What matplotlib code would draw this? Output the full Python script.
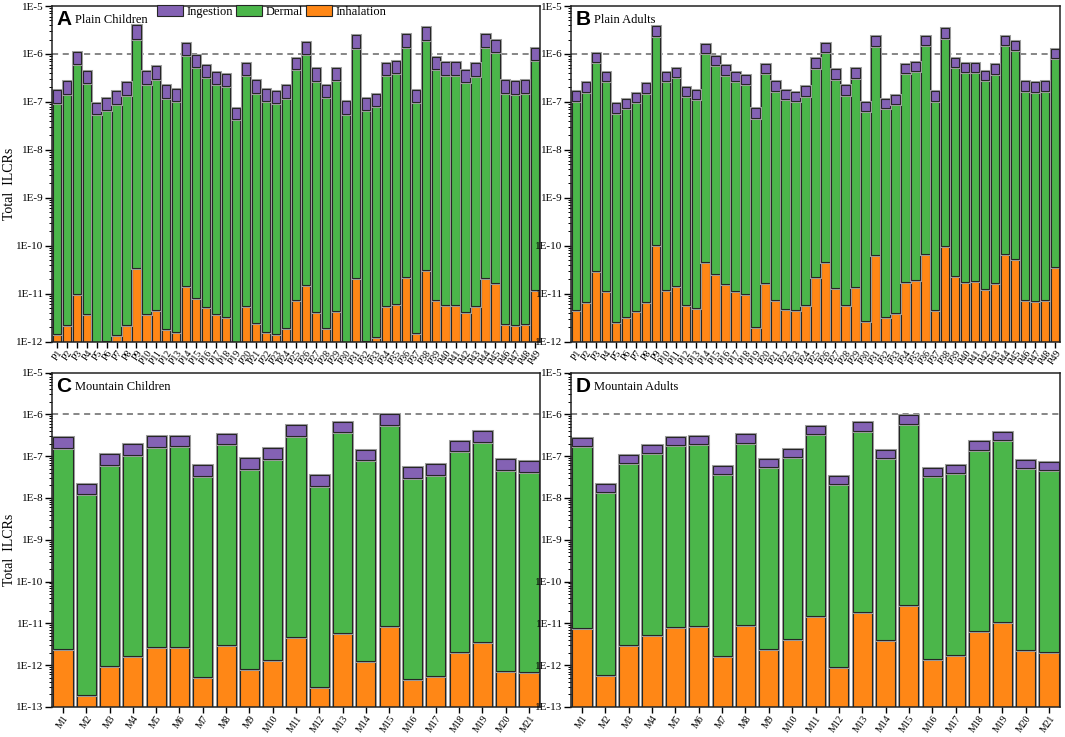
import numpy as np
import matplotlib
matplotlib.use('Agg')
import matplotlib.pyplot as plt
import matplotlib.patheffects as pe
from matplotlib.ticker import LogLocator, FixedLocator, FuncFormatter, NullFormatter
from matplotlib.patches import Patch

plt.rcParams['font.family'] = ['Liberation Serif', 'DejaVu Serif']

# site labels
plain_sites = ['P%d' % i for i in range(1, 50)]
mountain_sites = ['M%d' % i for i in range(1, 22)]

# plain children: inhalation, inhalation+dermal, total
pc_inh = [1.48e-12, 2.25e-12, 9.7e-12, 3.8e-12, 8e-13, 1.05e-12, 1.38e-12, 2.2e-12, 3.5e-11, 3.8e-12,
          4.6e-12, 1.83e-12, 1.6e-12, 1.47e-11, 8.3e-12, 5.3e-12, 3.8e-12, 3.3e-12, 9e-13, 5.6e-12,
          2.4e-12, 1.56e-12, 1.46e-12, 1.9e-12, 7.5e-12, 1.5e-11, 4.2e-12, 1.9e-12, 4.4e-12, 9e-13,
          2.1e-11, 1.02e-12, 1.27e-12, 5.6e-12, 6.2e-12, 2.2e-11, 1.52e-12, 3.1e-11, 7.5e-12, 5.8e-12,
          5.8e-12, 4.1e-12, 5.6e-12, 2.15e-11, 1.7e-11, 2.35e-12, 2.25e-12, 2.35e-12, 1.17e-11]
pc_derm = [9.7e-8, 1.45e-7, 6.2e-7, 2.5e-7, 5.5e-8, 6.7e-8, 9.1e-8, 1.4e-7, 2.1e-6, 2.4e-7,
           3.05e-7, 1.2e-7, 1.05e-7, 9.4e-7, 5.4e-7, 3.35e-7, 2.4e-7, 2.1e-7, 4.3e-8, 3.6e-7,
           1.56e-7, 1.03e-7, 9.4e-8, 1.23e-7, 4.8e-7, 9.8e-7, 2.75e-7, 1.25e-7, 2.85e-7, 5.7e-8,
           1.33e-6, 6.7e-8, 8.3e-8, 3.6e-7, 4.0e-7, 1.4e-6, 1.0e-7, 2.0e-6, 4.8e-7, 3.7e-7,
           3.7e-7, 2.6e-7, 3.5e-7, 1.4e-6, 1.1e-6, 1.55e-7, 1.46e-7, 1.54e-7, 7.5e-7]
pc_total = [1.73e-7, 2.7e-7, 1.12e-6, 4.4e-7, 9.7e-8, 1.2e-7, 1.66e-7, 2.6e-7, 4.0e-6, 4.4e-7,
            5.5e-7, 2.2e-7, 1.9e-7, 1.7e-6, 9.7e-7, 6.0e-7, 4.3e-7, 3.9e-7, 7.6e-8, 6.6e-7,
            2.8e-7, 1.83e-7, 1.7e-7, 2.2e-7, 8.4e-7, 1.75e-6, 5.0e-7, 2.2e-7, 5.2e-7, 1.05e-7,
            2.5e-6, 1.2e-7, 1.47e-7, 6.5e-7, 7.2e-7, 2.55e-6, 1.77e-7, 3.6e-6, 8.7e-7, 6.8e-7,
            6.8e-7, 4.7e-7, 6.4e-7, 2.55e-6, 2.0e-6, 2.8e-7, 2.7e-7, 2.8e-7, 1.35e-6]

# plain adults
pa_inh = [4.6e-12, 6.8e-12, 3.0e-11, 1.15e-11, 2.55e-12, 3.25e-12, 4.3e-12, 6.7e-12, 1.05e-10, 1.17e-11,
          1.42e-11, 5.7e-12, 5.0e-12, 4.6e-11, 2.57e-11, 1.59e-11, 1.14e-11, 1.0e-11, 2.05e-12, 1.7e-11,
          7.5e-12, 4.9e-12, 4.5e-12, 5.9e-12, 2.26e-11, 4.7e-11, 1.31e-11, 5.9e-12, 1.37e-11, 2.75e-12,
          6.5e-11, 3.25e-12, 3.9e-12, 1.72e-11, 1.96e-11, 6.8e-11, 4.6e-12, 1.0e-10, 2.33e-11, 1.78e-11,
          1.83e-11, 1.27e-11, 1.7e-11, 6.7e-11, 5.3e-11, 7.3e-12, 7.0e-12, 7.3e-12, 3.6e-11]
pa_derm = [1.07e-7, 1.6e-7, 6.8e-7, 2.7e-7, 5.9e-8, 7.4e-8, 1.0e-7, 1.56e-7, 2.4e-6, 2.7e-7,
           3.35e-7, 1.33e-7, 1.15e-7, 1.03e-6, 5.8e-7, 3.7e-7, 2.7e-7, 2.36e-7, 4.7e-8, 4.0e-7,
           1.7e-7, 1.13e-7, 1.05e-7, 1.35e-7, 5.1e-7, 1.08e-6, 3.05e-7, 1.37e-7, 3.2e-7, 6.4e-8,
           1.49e-6, 7.4e-8, 9.1e-8, 4.0e-7, 4.4e-7, 1.56e-6, 1.07e-7, 2.2e-6, 5.3e-7, 4.2e-7,
           4.2e-7, 2.9e-7, 3.9e-7, 1.55e-6, 1.2e-6, 1.7e-7, 1.64e-7, 1.7e-7, 8.3e-7]
pa_total = [1.7e-7, 2.55e-7, 1.07e-6, 4.24e-7, 9.3e-8, 1.15e-7, 1.56e-7, 2.5e-7, 3.8e-6, 4.2e-7,
            5.2e-7, 2.07e-7, 1.8e-7, 1.6e-6, 9.2e-7, 5.8e-7, 4.2e-7, 3.7e-7, 7.4e-8, 6.2e-7,
            2.7e-7, 1.77e-7, 1.63e-7, 2.1e-7, 8.1e-7, 1.7e-6, 4.8e-7, 2.2e-7, 5.0e-7, 1.02e-7,
            2.36e-6, 1.15e-7, 1.42e-7, 6.2e-7, 6.9e-7, 2.4e-6, 1.7e-7, 3.4e-6, 8.3e-7, 6.6e-7,
            6.6e-7, 4.5e-7, 6.2e-7, 2.4e-6, 1.9e-6, 2.7e-7, 2.55e-7, 2.7e-7, 1.29e-6]

# mountain children
mc_inh = [2.45e-12, 1.94e-13, 9.6e-13, 1.67e-12, 2.68e-12, 2.73e-12, 5.3e-13, 3.0e-12, 7.9e-13, 1.34e-12,
          4.8e-12, 3.0e-13, 5.9e-12, 1.25e-12, 8.8e-12, 4.6e-13, 5.6e-13, 2.05e-12, 3.5e-12, 7.4e-13, 6.7e-13]
mc_derm = [1.55e-7, 1.22e-8, 6.1e-8, 1.05e-7, 1.66e-7, 1.75e-7, 3.4e-8, 1.92e-7, 4.9e-8, 8.5e-8,
           3.0e-7, 1.9e-8, 3.7e-7, 7.9e-8, 5.5e-7, 2.95e-8, 3.55e-8, 1.31e-7, 2.2e-7, 4.7e-8, 4.2e-8]
mc_total = [2.8e-7, 2.2e-8, 1.11e-7, 1.92e-7, 3.0e-7, 3.1e-7, 6.1e-8, 3.4e-7, 8.9e-8, 1.58e-7,
            5.5e-7, 3.5e-8, 6.6e-7, 1.44e-7, 1.0e-6, 5.4e-8, 6.5e-8, 2.35e-7, 4.0e-7, 8.5e-8, 7.8e-8]

# mountain adults
ma_inh = [7.6e-12, 5.9e-13, 3.0e-12, 5.2e-12, 8.2e-12, 8.5e-12, 1.64e-12, 9.3e-12, 2.45e-12, 4.2e-12,
          1.49e-11, 9.3e-13, 1.83e-11, 3.9e-12, 2.73e-11, 1.44e-12, 1.73e-12, 6.4e-12, 1.1e-11, 2.32e-12, 2.1e-12]
ma_derm = [1.72e-7, 1.38e-8, 6.8e-8, 1.18e-7, 1.85e-7, 1.95e-7, 3.75e-8, 2.1e-7, 5.5e-8, 9.6e-8,
           3.4e-7, 2.15e-8, 4.0e-7, 8.8e-8, 6.0e-7, 3.3e-8, 4.0e-8, 1.43e-7, 2.4e-7, 5.2e-8, 4.7e-8]
ma_total = [2.7e-7, 2.2e-8, 1.07e-7, 1.85e-7, 2.9e-7, 3.0e-7, 5.9e-8, 3.3e-7, 8.7e-8, 1.49e-7,
            5.2e-7, 3.4e-8, 6.4e-7, 1.38e-7, 9.6e-7, 5.2e-8, 6.2e-8, 2.25e-7, 3.8e-7, 8.2e-8, 7.4e-8]

c_ing = '#8462b4'
c_derm = '#4bb64a'
c_inh = '#ff8716'
edge = '#262626'

fig = plt.figure(figsize=(10.65, 7.37), dpi=100)

W, H = 1065.0, 737.0


def box(l, t, r, b):
    return [l / W, 1 - b / H, (r - l) / W, (b - t) / H]


def panel(rect, sites, inh, derm, total, ymin, letter, title, ylabel):
    ax = fig.add_axes(rect)
    x = np.arange(len(sites))
    inh = np.array(inh)
    derm = np.array(derm)
    total = np.array(total)
    w = 0.82
    shadow = [pe.withStroke(linewidth=2.2, foreground='#a0a0a0')]
    kw = dict(width=w, edgecolor=edge, linewidth=0.8, path_effects=shadow)
    ax.bar(x, inh - ymin * 0.1, bottom=ymin * 0.1, color=c_inh, **kw)
    ax.bar(x, derm - inh, bottom=inh, color=c_derm, **kw)
    ax.bar(x, total - derm, bottom=derm, color=c_ing, **kw)
    ax.axhline(1e-6, color='#666666', ls=(0, (4, 3)), lw=1.1, zorder=0.5)

    ax.set_yscale('log')
    ax.set_ylim(ymin, 1e-5)
    ax.set_xlim(-0.47, len(sites) - 0.53)
    lo = int(round(np.log10(ymin)))
    ax.yaxis.set_major_locator(FixedLocator([10.0 ** k for k in range(lo, -4)]))
    ax.yaxis.set_minor_locator(LogLocator(base=10, subs=np.arange(2, 10), numticks=20))
    ax.yaxis.set_minor_formatter(NullFormatter())
    ax.yaxis.set_major_formatter(FuncFormatter(lambda v, p: '1E%d' % int(round(np.log10(v)))))
    ax.tick_params(axis='y', which='major', direction='out', length=5, width=1, labelsize=8, pad=1)
    ax.tick_params(axis='y', which='minor', direction='out', length=2.5, width=0.7)
    ax.tick_params(axis='x', direction='out', length=4, width=1, labelsize=7, pad=1)
    ax.set_xticks(x)
    ax.set_xticklabels(sites, rotation=55, ha='right', va='top', rotation_mode='anchor')
    for s in ax.spines.values():
        s.set_linewidth(1.1)
        s.set_color('#222222')

    ax.text(0.009, 0.988, letter, transform=ax.transAxes, ha='left', va='top',
            fontsize=15, fontweight='bold', family=['Liberation Sans', 'DejaVu Sans'])
    ax.text(0.047, 0.976, title, transform=ax.transAxes, ha='left', va='top', fontsize=9)
    if ylabel:
        ax.set_ylabel('Total  ILCRs', fontsize=10)
        ax.yaxis.set_label_coords(-0.073, 0.47)
    return ax


axA = panel(box(52, 6, 540, 341.7), plain_sites, pc_inh, pc_derm, pc_total, 1e-12, 'A', 'Plain Children', True)
panel(box(571, 6, 1060, 341.7), plain_sites, pa_inh, pa_derm, pa_total, 1e-12, 'B', 'Plain Adults', False)
panel(box(52, 372.5, 540, 707), mountain_sites, mc_inh, mc_derm, mc_total, 1e-13, 'C', 'Mountain Children', True)
panel(box(571, 372.5, 1060, 707), mountain_sites, ma_inh, ma_derm, ma_total, 1e-13, 'D', 'Mountain Adults', False)

handles = [Patch(facecolor=c_ing, edgecolor=edge, linewidth=0.8, label='Ingestion'),
           Patch(facecolor=c_derm, edgecolor=edge, linewidth=0.8, label='Dermal'),
           Patch(facecolor=c_inh, edgecolor=edge, linewidth=0.8, label='Inhalation')]
fig.legend(handles=handles, loc='upper left', bbox_to_anchor=(157 / W, 1 - 5 / H), ncol=3,
           frameon=False, fontsize=9, handlelength=2.1, handleheight=1.0,
           handletextpad=0.3, columnspacing=0.2, borderaxespad=0, borderpad=0)

fig.savefig('out.png', dpi=100)
